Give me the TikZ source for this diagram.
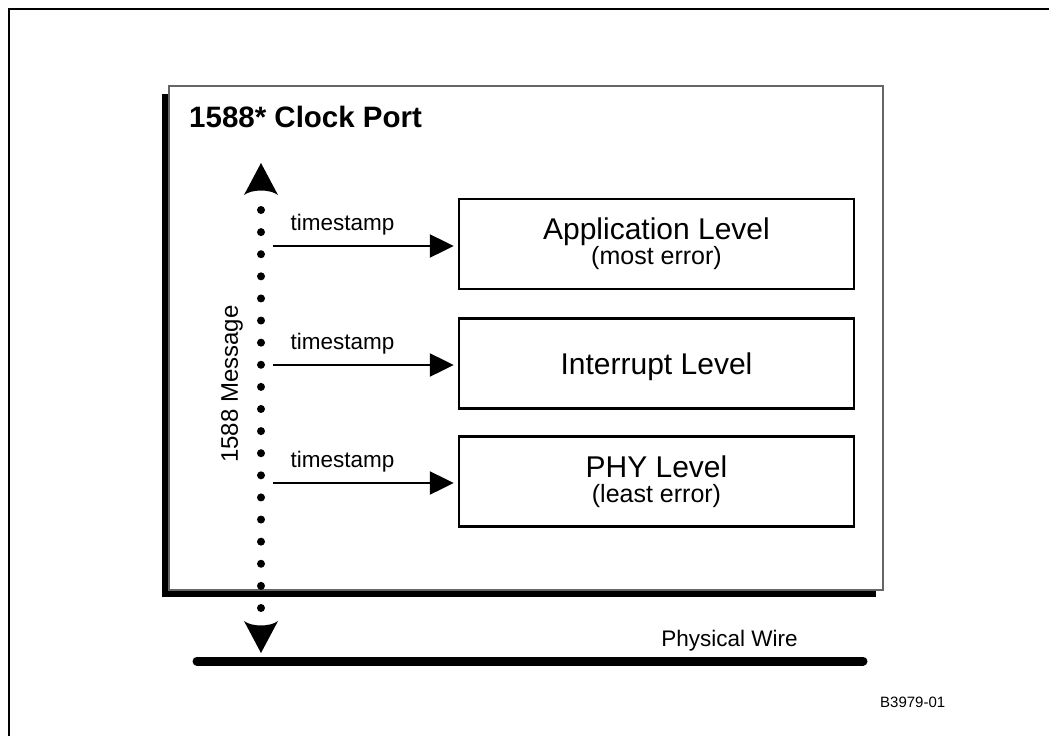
\documentclass[tikz,border=0pt]{standalone}
\usepackage{fontspec}
\setmainfont{Liberation Sans}
\usetikzlibrary{arrows.meta}
\begin{document}
\begin{tikzpicture}[x=1pt,y=-1pt,
  pageframe/.style={line width=2.5pt},
  panel/.style={fill=white, draw=black!60, line width=2pt},
  titletext/.style={font=\fontsize{29.5}{34}\selectfont\bfseries, anchor=base west, inner sep=0},
  lvlbox/.style={draw, line width=2.5pt, minimum width=395pt, minimum height=90pt, inner sep=0},
  lvltext/.style={font=\fontsize{30}{35}\selectfont, anchor=base, inner sep=0},
  subtext/.style={font=\fontsize{25}{29}\selectfont, anchor=base, inner sep=0},
  tslabel/.style={font=\fontsize{22.5}{26}\selectfont, anchor=base, inner sep=0},
  tsarrow/.style={line width=2.5pt, -{Triangle[length=24pt,width=23pt]}, shorten >=4pt},
  msghead/.style={fill=black},
  msgdot/.style={fill=black},
  wire/.style={line width=9pt, line cap=round},
  smalltext/.style={font=\fontsize{22.5}{26}\selectfont, inner sep=0},
  figid/.style={font=\fontsize{15}{18}\selectfont, anchor=base west, inner sep=0}
]
\useasboundingbox (0,0) rectangle (1049,736);

% page frame: top and left rules only
\draw[pageframe] (9,736) -- (9,9) -- (1049,9);

% clock port panel with its drop shadow
\fill[black] (162,94) rectangle (876,597);
\draw[panel] (169,86) rectangle (883,590);
\node[titletext] (title) at (189,127) {1588* Clock Port};

% timestamping levels
\node[lvlbox] (app) at (656.5,244) {};
\node[lvltext] (apptxt) at (656.5,239) {Application Level};
\node[subtext] (appsub) at (656.5,264) {(most error)};

\node[lvlbox] (irq) at (656.5,363.5) {};
\node[lvltext] (irqtxt) at (656.5,374) {Interrupt Level};

\node[lvlbox] (phy) at (656.5,481.5) {};
\node[lvltext] (phytxt) at (656.5,477) {PHY Level};
\node[subtext] (physub) at (656.5,502) {(least error)};

% timestamp taps from the message path
\coordinate (tsA) at (273,246);
\coordinate (tsB) at (273,365);
\coordinate (tsC) at (273,483);
\draw[tsarrow] (tsA) -- (tsA -| app.west);
\draw[tsarrow] (tsB) -- (tsB -| irq.west);
\draw[tsarrow] (tsC) -- (tsC -| phy.west);
\node[tslabel] (tsAl) at (342.5,230) {timestamp};
\node[tslabel] (tsBl) at (342.5,349) {timestamp};
\node[tslabel] (tsCl) at (342.5,467) {timestamp};

% 1588 message path: dotted line with heads at both ends
\coordinate (msgtop) at (261,163);
\coordinate (msgbot) at (261,653);
\foreach \k in {0,...,18}
  \fill[msgdot] ({261},{210+22.11*\k}) circle (4pt);
\fill[msghead] (msgtop) -- (278,195) .. controls (270,189) and (252,189) .. (244,195) -- cycle;
\fill[msghead] (msgbot) -- (278,621) .. controls (270,627) and (252,627) .. (244,621) -- cycle;
\node[smalltext, font=\fontsize{24}{28}\selectfont, rotate=90] (msglabel) at (232,384) {1588 Message};

% physical wire
\coordinate (wireL) at (197,661);
\coordinate (wireR) at (863,661);
\draw[wire] (wireL) -- (wireR);
\node[smalltext, anchor=base] (wirelabel) at (729.5,646) {Physical Wire};

% figure number
\node[figid] (fig) at (880,707) {B3979-01};
\end{tikzpicture}
\end{document}
